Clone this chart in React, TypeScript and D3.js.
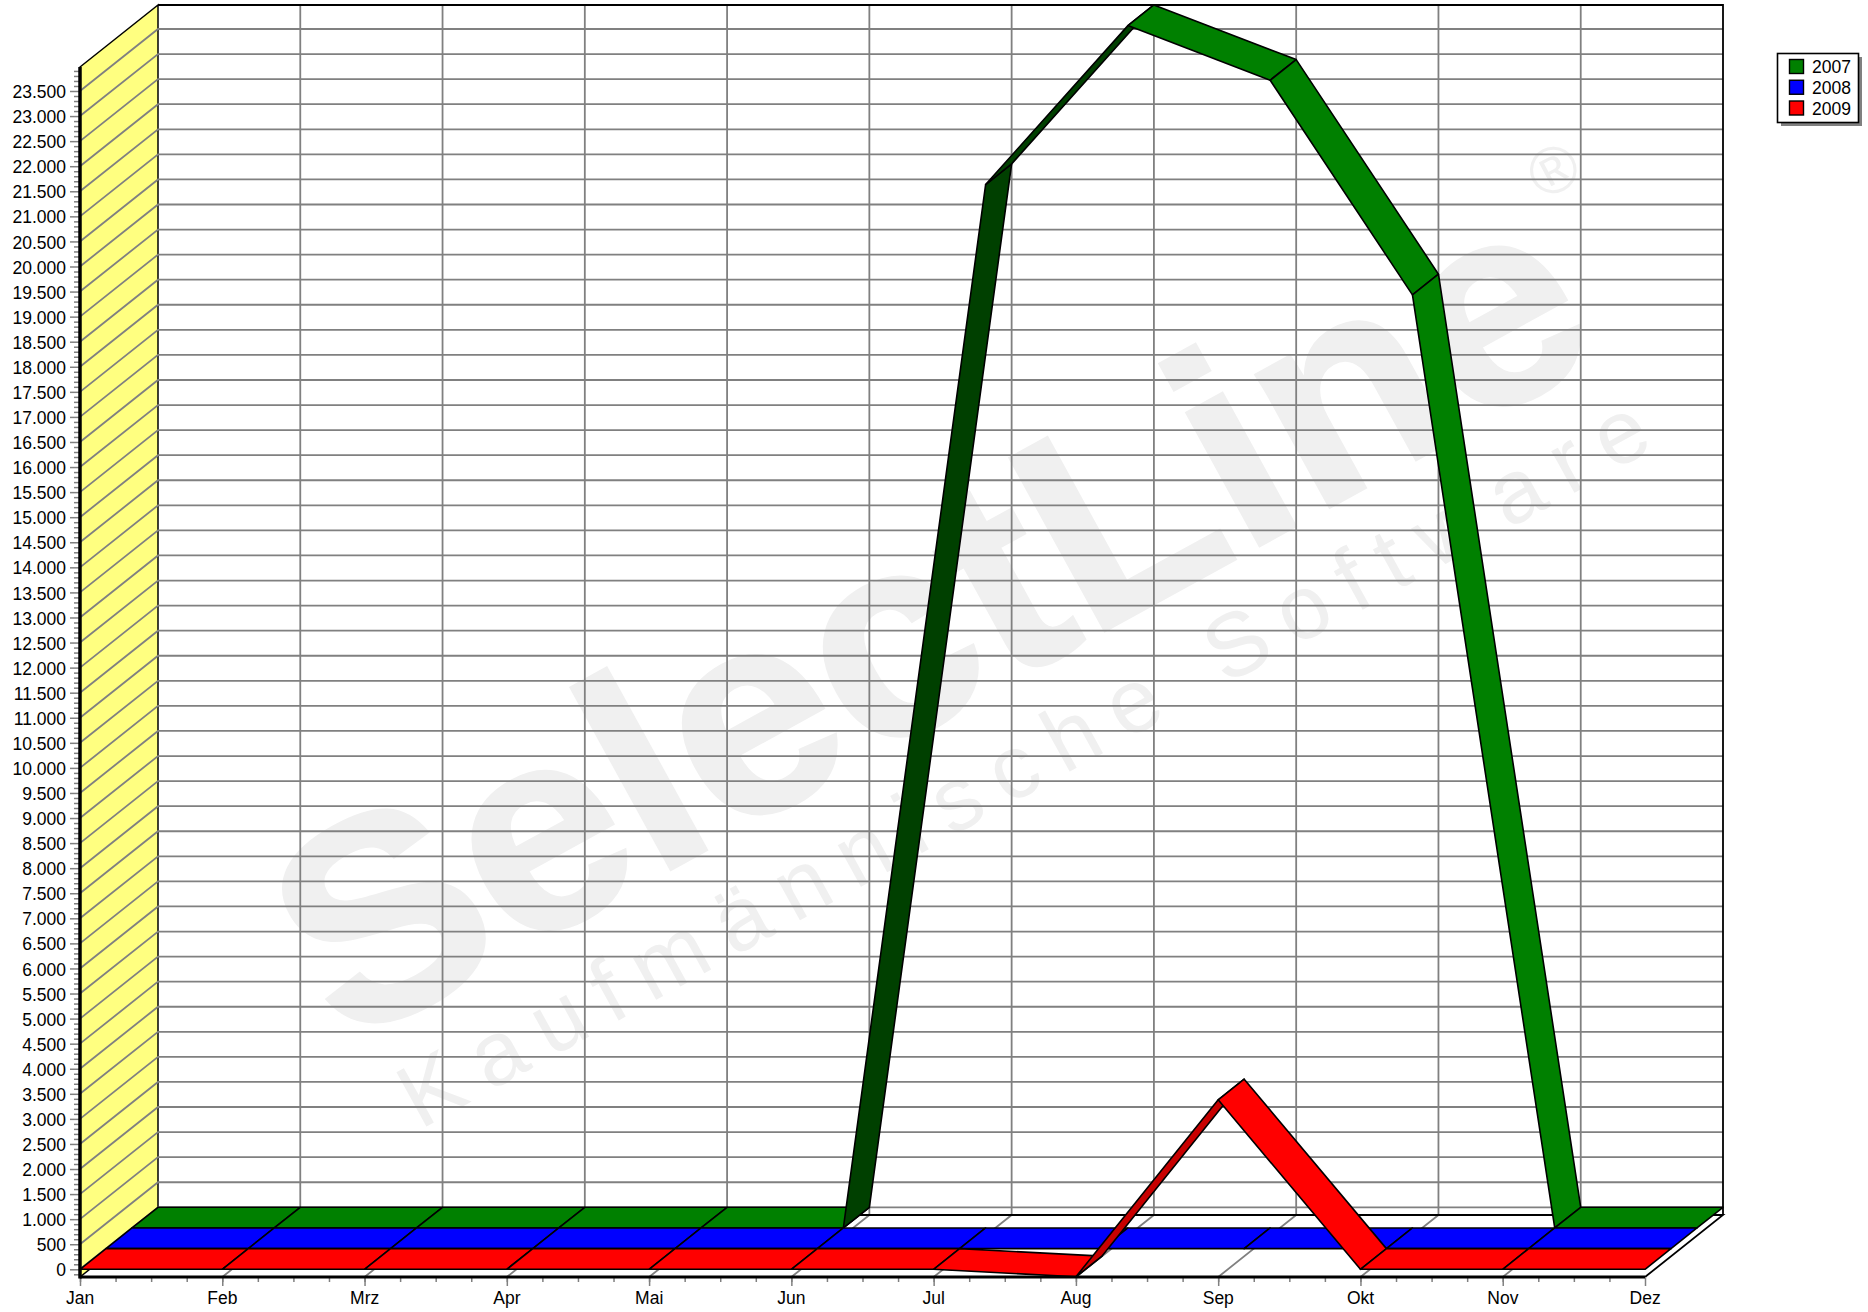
import { useEffect, useRef } from "react";
import * as d3 from "d3";

const months = ["Jan", "Feb", "Mrz", "Apr", "Mai", "Jun", "Jul", "Aug", "Sep", "Okt", "Nov", "Dez"];
const seriesNames = ["2007", "2008", "2009"];
const values2007 = [0, 0, 0, 0, 0, 0, 20810, 23980, 22890, 18610, 0, 0];
const values2008 = [0, 0, 0, 0, 0, 0, 0, 0, 0, 0, 0, 0];
const values2009 = [0, 0, 0, 0, 0, 0, 0, -150, 3380, 0, 0, 0];
const seriesColors = ["#008000", "#0000ff", "#ff0000"];
const seriesDark = ["#004000", "#000080", "#c80000"];

const WIDTH = 1868;
const HEIGHT = 1312;

export default function App() {
  const ref = useRef<SVGSVGElement>(null);

  useEffect(() => {
    const svg = d3.select(ref.current);
    svg.selectAll("*").remove();

    const x = d3.scalePoint<string>().domain(months).range([80, 1645]);
    const y = d3.scaleLinear().domain([0, 23500]).range([1269.3, 91]);

    const axisTop = 67;
    const axisBottom = 1277;
    const depth = { x: 78, y: -62 };
    const font = "'Liberation Sans', Arial, sans-serif";

    const all = [values2007, values2008, values2009];
    // band index 0 is the back one, so 2007 sits against the wall
    const bandOffset = (band: number) => ({
      x: (depth.x * band) / 3,
      y: (depth.y * band) / 3,
    });

    // floor and walls
    svg
      .append("rect")
      .attr("x", depth.x + 80)
      .attr("y", axisTop + depth.y)
      .attr("width", 1645 - 80)
      .attr("height", axisBottom - axisTop)
      .attr("fill", "#fff");

    // watermark goes under the grid
    const mark = svg.append("g").attr("fill", "#f0f0f0").attr("font-family", font);
    mark
      .append("text")
      .attr("transform", "translate(345,1048) rotate(-28.8)")
      .attr("font-weight", "bold")
      .attr("font-size", 285)
      .attr("stroke", "#f0f0f0")
      .attr("stroke-width", 4)
      .attr("textLength", 1440)
      .attr("lengthAdjust", "spacingAndGlyphs")
      .text("SelectLine");
    mark
      .append("text")
      .attr("transform", "translate(420,1130) rotate(-28.9)")
      .attr("font-size", 90)
      .attr("textLength", 1412)
      .text("Kaufmännische Software");
    mark
      .append("text")
      .attr("transform", "translate(1564,190) rotate(-28)")
      .attr("font-size", 66)
      .attr("text-anchor", "middle")
      .text("®");

    svg
      .append("path")
      .attr(
        "d",
        d3.line()([
          [80, axisTop],
          [80 + depth.x, axisTop + depth.y],
          [80 + depth.x, axisBottom + depth.y],
          [80, axisBottom],
        ]) + "Z"
      )
      .attr("fill", "#ffff80")
      .attr("stroke", "#000")
      .attr("stroke-width", 1.5);

    const majorTicks = d3.range(0, 24000, 500);
    const minorTicks = d3.range(-100, 24000, 100).filter((d) => d % 500 !== 0);
    const grid = svg.append("g").attr("stroke", "#808080").attr("stroke-width", 1.8).attr("fill", "none");
    majorTicks.forEach((d) => {
      grid
        .append("path")
        .attr(
          "d",
          d3.line()([
            [80, y(d)],
            [80 + depth.x, y(d) + depth.y],
            [1645 + depth.x, y(d) + depth.y],
          ])
        );
    });
    months.slice(1, -1).forEach((m) => {
      const mx = x(m) as number;
      grid
        .append("path")
        .attr(
          "d",
          d3.line()([
            [mx, axisBottom],
            [mx + depth.x, axisBottom + depth.y],
            [mx + depth.x, axisTop + depth.y],
          ])
        );
    });

    // frame of back wall and floor
    svg
      .append("path")
      .attr(
        "d",
        d3.line()([
          [80 + depth.x, axisBottom + depth.y],
          [1645 + depth.x, axisBottom + depth.y],
          [1645, axisBottom],
        ])
      )
      .attr("fill", "none")
      .attr("stroke", "#000")
      .attr("stroke-width", 1.8);
    svg
      .append("path")
      .attr(
        "d",
        d3.line()([
          [80 + depth.x, axisTop + depth.y],
          [1645 + depth.x, axisTop + depth.y],
          [1645 + depth.x, axisBottom + depth.y],
        ])
      )
      .attr("fill", "none")
      .attr("stroke", "#000")
      .attr("stroke-width", 1.8);

    // ribbons, back series first
    all.forEach((values, s) => {
      const front = bandOffset(2 - s);
      const back = bandOffset(3 - s);
      const g = svg.append("g").attr("stroke", "#000").attr("stroke-width", 1.6).attr("stroke-linejoin", "round");
      values.slice(0, -1).forEach((v, i) => {
        const x0 = x(months[i]) as number;
        const x1 = x(months[i + 1]) as number;
        const y0 = y(v);
        const y1 = y(values[i + 1]);
        // flipped ribbon: we look at its underside
        const cross = (x1 - x0) * (back.y - front.y) - (y1 - y0) * (back.x - front.x);
        g.append("path")
          .attr(
            "d",
            d3.line()([
              [x0 + front.x, y0 + front.y],
              [x1 + front.x, y1 + front.y],
              [x1 + back.x, y1 + back.y],
              [x0 + back.x, y0 + back.y],
            ]) + "Z"
          )
          .attr("fill", cross > 0 ? seriesDark[s] : seriesColors[s]);
      });
    });

    // y axis
    const yMinor = svg
      .append("g")
      .attr("transform", "translate(80,0)")
      .call(d3.axisLeft(y).tickValues(minorTicks).tickSize(6).tickFormat(() => ""));
    const deLocale = d3.formatLocale({ decimal: ",", thousands: ".", grouping: [3], currency: ["", "€"] });
    const yMajor = svg
      .append("g")
      .attr("transform", "translate(80,0)")
      .call(d3.axisLeft(y).tickValues(majorTicks).tickSize(10).tickPadding(4).tickFormat((d) => deLocale.format(",")(+d)));

    const xMinorValues = d3.range(80, 1645, (1645 - 80) / 44);
    const xLinear = d3.scaleLinear().domain([80, 1645]).range([80, 1645]);
    const xMinor = svg
      .append("g")
      .attr("transform", `translate(0,${axisBottom})`)
      .call(d3.axisBottom(xLinear).tickValues(xMinorValues).tickSize(5).tickFormat(() => ""));
    const xMajor = svg
      .append("g")
      .attr("transform", `translate(0,${axisBottom})`)
      .call(d3.axisBottom(x).tickSize(9).tickPadding(6));

    [yMinor, yMajor, xMinor, xMajor].forEach((a) => {
      a.select(".domain").remove();
      a.selectAll("line").attr("stroke", "#808080").attr("stroke-width", 1.5);
      a.selectAll("text").attr("font-family", font).attr("font-size", 17.5).attr("fill", "#000");
    });
    yMajor.selectAll("text").attr("transform", "translate(0,1)");
    xMajor.selectAll("text").attr("transform", "translate(-0.4,0)");

    svg
      .append("line")
      .attr("x1", 80)
      .attr("x2", 80)
      .attr("y1", axisTop)
      .attr("y2", axisBottom + 1.5)
      .attr("stroke", "#000")
      .attr("stroke-width", 3.5);
    svg
      .append("line")
      .attr("x1", 80)
      .attr("x2", 1645)
      .attr("y1", axisBottom)
      .attr("y2", axisBottom)
      .attr("stroke", "#000")
      .attr("stroke-width", 3);

    // legend
    const legendY = d3.scalePoint<string>().domain(seriesNames).range([59.5, 101]);
    const legend = svg.append("g");
    legend.append("rect").attr("x", 1781).attr("y", 57).attr("width", 81).attr("height", 69).attr("fill", "#808080");
    legend
      .append("rect")
      .attr("x", 1777.5)
      .attr("y", 53.5)
      .attr("width", 81)
      .attr("height", 69)
      .attr("fill", "#fff")
      .attr("stroke", "#000")
      .attr("stroke-width", 1.6);
    seriesNames.forEach((name, i) => {
      const ly = legendY(name) as number;
      legend
        .append("rect")
        .attr("x", 1789.5)
        .attr("y", ly)
        .attr("width", 14)
        .attr("height", 14)
        .attr("fill", seriesColors[i])
        .attr("stroke", "#000")
        .attr("stroke-width", 1.4);
      legend
        .append("text")
        .attr("x", 1812)
        .attr("y", ly + 13.5)
        .attr("font-family", font)
        .attr("font-size", 17.5)
        .attr("fill", "#000")
        .text(name);
    });
  });

  return (
    <svg
      ref={ref}
      width={WIDTH}
      height={HEIGHT}
      style={{ position: "absolute", left: 0, top: 0, background: "#fff" }}
    ></svg>
  );
}
